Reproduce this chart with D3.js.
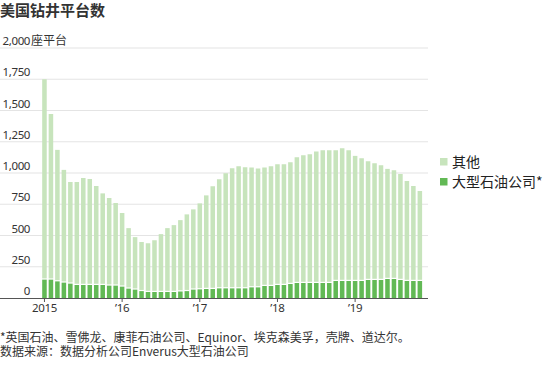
<!DOCTYPE html>
<html>
<head>
<meta charset="utf-8">
<script src="https://cdn.jsdelivr.net/npm/d3@7"></script>
<style>
  body { margin: 0; background: #fff; }
  svg { display: block; font-family: "Noto Sans CJK SC", "Noto Sans", sans-serif; }
  .num { font-family: "Noto Sans", "Noto Sans CJK SC", sans-serif; }
</style>
</head>
<body>
<svg id="wykres"></svg>
<script>
// dane: miesiące od 2015-01 do 2019-11
let bigOil = [147,147,133,123,115,104,104,104,104,104,99,99,
  91,75,67,55,48,48,48,48,48,52,55,67,
  69,72,72,77,77,77,77,77,85,85,96,96,
  104,104,112,120,120,120,120,120,120,136,136,136,
  136,136,144,144,144,152,152,144,136,136,136];
let other = [1603,1325,1052,902,813,824,856,848,792,733,701,661,
  589,484,420,393,390,414,463,511,535,571,614,642,
  688,749,822,873,921,961,977,969,959,951,948,958,
  966,966,974,1006,1022,1030,1052,1062,1062,1046,1062,1046,
  1001,982,950,934,918,881,870,848,800,760,720];
let yTicks = [0,250,500,750,1000,1250,1500,1750,2000];
let xTickIdx = [0,12,24,36,48];
let xTickLabels = ['2015','\u201916','\u201917','\u201918','\u201919'];
let seriesNames = ['其他','大型石油公司*'];
let colors = ['#c7e4bc','#62b955'];

let W = 550, H = 367;
let svg = d3.select('#wykres').attr('width', W).attr('height', H);

let months = d3.range(bigOil.length);
let x = d3.scaleBand().domain(months).range([40.25, 424.05]).padding(0.3);
let y = d3.scaleLinear().domain([0, 2000]).range([298, 48]);

// tytuł
svg.append('text').attr('x', 0).attr('y', 16)
  .attr('font-size', 15).attr('font-weight', 'bold').attr('fill', '#333')
  .text('美国钻井平台数');

// siatka
svg.append('g').selectAll('line').data(yTicks.filter(d => d > 0)).join('line')
  .attr('x1', 0).attr('x2', 428)
  .attr('y1', d => y(d)).attr('y2', d => y(d))
  .attr('stroke', '#e4e4e4').attr('stroke-width', 1.2);

// etykiety osi y
svg.append('g').selectAll('text').data(yTicks).join('text')
  .attr('class', 'num')
  .attr('x', 30).attr('y', d => y(d) - 3)
  .attr('text-anchor', 'end').attr('font-size', 11.5).attr('fill', '#333')
  .attr('letter-spacing', -0.4)
  .text(d => d3.format(',')(d));
svg.append('text').attr('x', 31).attr('y', y(2000) - 3)
  .attr('font-size', 12).attr('fill', '#333').text('座平台');

// słupki
let rows = months.map(i => ({big: bigOil[i], other: other[i]}));
let stack = d3.stack().keys(['big', 'other'])(rows);

svg.append('g').selectAll('rect').data(stack[0]).join('rect')
  .attr('x', (d, i) => x(i)).attr('width', x.bandwidth())
  .attr('y', d => y(d[1])).attr('height', d => y(d[0]) - y(d[1]))
  .attr('fill', colors[1]);

svg.append('g').selectAll('rect').data(stack[1]).join('rect')
  .attr('x', (d, i) => x(i)).attr('width', x.bandwidth())
  .attr('y', d => y(d[1])).attr('height', d => y(d[0]) - y(d[1]) - 1.2)
  .attr('fill', colors[0]);

// oś x
let xAxis = svg.append('g');
xAxis.append('line').attr('x1', 0).attr('x2', 428)
  .attr('y1', y(0) + 0.5).attr('y2', y(0) + 0.5)
  .attr('stroke', '#555').attr('stroke-width', 1);
xAxis.selectAll('line.tick').data(xTickIdx).join('line').attr('class', 'tick')
  .attr('x1', d => x(d) + x.bandwidth() / 2).attr('x2', d => x(d) + x.bandwidth() / 2)
  .attr('y1', y(0)).attr('y2', y(0) + 4)
  .attr('stroke', '#555');
xAxis.selectAll('text').data(xTickIdx).join('text')
  .attr('class', 'num')
  .attr('x', d => x(d) + x.bandwidth() / 2).attr('y', 312)
  .attr('text-anchor', 'middle').attr('font-size', 11.5).attr('fill', '#333')
  .attr('letter-spacing', -0.3)
  .text((d, i) => xTickLabels[i]);

// legenda
let leg = svg.append('g').selectAll('g').data(seriesNames).join('g')
  .attr('transform', (d, i) => `translate(440,${158 + i * 20})`);
leg.append('rect').attr('width', 7.5).attr('height', 7.5)
  .attr('fill', (d, i) => colors[i]);
leg.append('text').attr('x', 12).attr('y', 9)
  .attr('font-size', 14).attr('fill', '#222').text(d => d);

// przypisy
svg.append('text').attr('x', 0).attr('y', 341.5)
  .attr('font-size', 12).attr('fill', '#333')
  .text('*英国石油、雪佛龙、康菲石油公司、Equinor、埃克森美孚，壳牌、道达尔。');
svg.append('text').attr('x', 0).attr('y', 356)
  .attr('font-size', 12).attr('fill', '#333')
  .text('数据来源：数据分析公司Enverus大型石油公司');
</script>
</body>
</html>
